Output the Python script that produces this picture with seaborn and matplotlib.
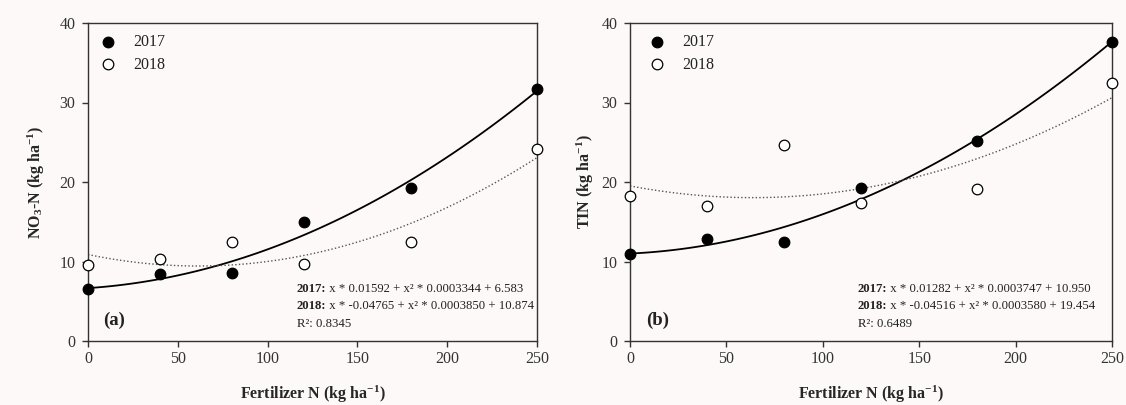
import numpy as np
import pandas as pd
import matplotlib
matplotlib.use("Agg")
import matplotlib.pyplot as plt
import seaborn as sns

# ---- data ----
fert_n = [0, 40, 80, 120, 180, 250]
no3_2017 = [6.5, 8.4, 8.6, 15.0, 19.3, 31.7]
no3_2018 = [9.5, 10.3, 12.5, 9.7, 12.5, 24.2]
tin_2017 = [11.0, 12.8, 12.4, 19.3, 25.2, 37.6]
tin_2018 = [18.2, 17.0, 24.6, 17.3, 19.1, 32.4]
years = ["2017", "2018"]
x_ticks = [0, 50, 100, 150, 200, 250]
y_ticks = [0, 10, 20, 30, 40]
eq_a = [("2017:", " x * 0.01592 + x² * 0.0003344 + 6.583"),
        ("2018:", " x * -0.04765 + x² * 0.0003850 + 10.874"),
        ("", "R²: 0.8345")]
eq_b = [("2017:", " x * 0.01282 + x² * 0.0003747 + 10.950"),
        ("2018:", " x * -0.04516 + x² * 0.0003580 + 19.454"),
        ("", "R²: 0.6489")]

sns.set_theme(style="ticks")
bg = "#fcf9f8"
plt.rcParams.update({
    "font.family": ["Liberation Serif", "DejaVu Serif"],
    "mathtext.fontset": "custom",
    "mathtext.rm": "Liberation Serif",
    "mathtext.it": "Liberation Serif:italic",
    "mathtext.bf": "Liberation Serif:bold",
    "mathtext.default": "regular",
    "axes.edgecolor": "#333333",
    "axes.linewidth": 1.0,
    "xtick.color": "#333333",
    "ytick.color": "#333333",
    "text.color": "#222222",
})

W, H = 1126, 405
fig = plt.figure(figsize=(W / 100, H / 100), dpi=100, facecolor=bg)
ax_a = fig.add_axes([88 / W, 1 - 341 / H, (537 - 88) / W, 318 / H])
ax_b = fig.add_axes([630 / W, 1 - 341 / H, (1112 - 630) / W, 318 / H])

panels = [
    (ax_a, no3_2017, no3_2018, r"NO$_{\mathbf{3}}$-N (kg ha$^{\mathbf{-1}}$)", "(a)", eq_a,
     -0.092, 0.465, 0.026),
    (ax_b, tin_2017, tin_2018, r"TIN (kg ha$^{\mathbf{-1}}$)", "(b)", eq_b,
     -0.070, 0.473, 0.039),
]

for ax, y17, y18, ylab, tag, eqs, ylab_x, eqx, legx in panels:
    ax.set_facecolor(bg)
    df = pd.DataFrame({
        "x": fert_n * 2,
        "y": list(y17) + list(y18),
        "year": [years[0]] * len(fert_n) + [years[1]] * len(fert_n),
    })
    d17 = df[df.year == "2017"]
    d18 = df[df.year == "2018"]
    sns.regplot(data=d17, x="x", y="y", order=2, ci=None, scatter=False, ax=ax,
                truncate=True, line_kws=dict(color="black", lw=1.3, ls="-"))
    sns.regplot(data=d18, x="x", y="y", order=2, ci=None, scatter=False, ax=ax,
                truncate=True, line_kws=dict(color="#555555", lw=1.0, ls=(0, (1, 1.6))))
    sns.scatterplot(data=d17, x="x", y="y", ax=ax, s=58, color="black",
                    edgecolor="black", linewidth=0.9, label="2017", clip_on=False, zorder=5)
    sns.scatterplot(data=d18, x="x", y="y", ax=ax, s=58, facecolor="white",
                    edgecolor="black", linewidth=0.9, label="2018", clip_on=False, zorder=5)
    ax.set_xlim(0, 250)
    ax.set_ylim(0, 40)
    ax.set_xticks(x_ticks)
    ax.set_yticks(y_ticks)
    ax.tick_params(direction="out", length=4, width=1.0, labelsize=11.5,
                   top=False, right=False)
    ax.tick_params(axis="x", pad=3)
    ax.tick_params(axis="y", pad=5)
    for s in ax.spines.values():
        s.set_visible(True)
    ax.set_xlabel(r"Fertilizer N (kg ha$^{\mathbf{-1}}$)", fontsize=11.5,
                  fontweight="bold")
    ax.xaxis.set_label_coords(0.5, -0.135)
    ax.set_ylabel(ylab, fontsize=11.5, fontweight="bold")
    ax.yaxis.set_label_coords(ylab_x, 0.5)
    ax.legend(loc="upper left", frameon=False, fontsize=11.5,
              handlelength=1.0, handletextpad=1.1, labelspacing=0.4,
              borderaxespad=0.0, borderpad=0.0,
              bbox_to_anchor=(legx, 0.965))
    ax.text(0.033, 0.05, tag, transform=ax.transAxes, fontsize=13.5,
            fontweight="bold", ha="left", va="baseline")
    for i, (bold, rest) in enumerate(eqs):
        yy = 0.165 - i * 0.056
        if bold:
            t = ax.text(eqx, yy, bold, transform=ax.transAxes, fontsize=9.2,
                        fontweight="bold", ha="left", va="center")
            ax.annotate(rest, xy=(1, 0.5), xycoords=t, fontsize=9.2,
                        ha="left", va="center")
        else:
            ax.text(eqx, yy, rest, transform=ax.transAxes, fontsize=9.2,
                    ha="left", va="center")

fig.savefig("out.png", dpi=100, facecolor=bg)
